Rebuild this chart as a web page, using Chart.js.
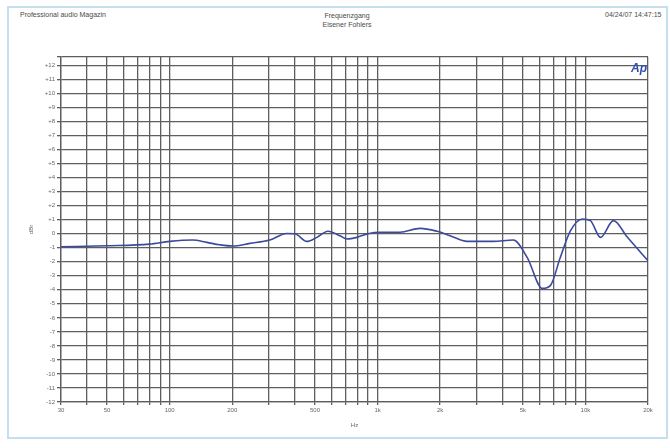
<!DOCTYPE html>
<html>
<head>
<meta charset="utf-8">
<script src="https://cdn.jsdelivr.net/npm/chart.js@4"></script>
<style>
  html, body { margin: 0; padding: 0; background: #fff; }
  #wrap { position: relative; width: 670px; height: 448px; overflow: hidden; font-family: "Liberation Sans", Arial, sans-serif; }
  #frame { position: absolute; left: 7px; top: 6px; width: 661px; height: 433px; border: 2px solid #c4e0ee; box-sizing: border-box; }
  .hdr { position: absolute; font-size: 7px; color: #4a4a4a; white-space: nowrap; }
  #logo { position: absolute; left: 631px; top: 61px; font: italic bold 12px "Liberation Sans", Arial, sans-serif; color: #2f4fb0; }
  canvas { position: absolute; left: 0; top: 0; }
</style>
</head>
<body>
<div id="wrap">
  <div id="frame"></div>
  <div class="hdr" style="left:20px; top:11px;">Professional audio Magazin</div>
  <div class="hdr" style="left:297px; top:11px; width:100px; text-align:center; line-height:9px;">Frequenzgang<br>Eisener Fohlers</div>
  <div class="hdr" style="left:605px; top:11px;">04/24/07 14:47:15</div>
  <canvas id="fr" width="670" height="448"></canvas>
  <div id="logo">Ap</div>
</div>
<script>
// measured response, relative to 1 kHz
const freqHz = [30, 50, 80, 100, 129, 151, 174, 201, 243, 303,
  366, 400, 457, 511, 577, 659, 712, 796, 899, 1028,
  1283, 1602, 1935, 2235, 2698, 3600, 4495, 5250, 6205, 6780,
  7570, 8465, 9675, 10570, 11810, 13640, 15930, 20000];
const levelDb = [-0.93, -0.86, -0.74, -0.55, -0.45, -0.62, -0.79, -0.88, -0.69, -0.45,
  0.02, 0.0, -0.55, -0.26, 0.17, -0.14, -0.38, -0.26, 0.0, 0.1,
  0.1, 0.38, 0.17, -0.14, -0.55, -0.55, -0.45, -1.7, -3.9, -3.7,
  -1.7, 0.2, 1.05, 0.93, -0.26, 0.93, -0.26, -1.93];

// axis ticks
const xLabelValues = [30, 50, 100, 200, 500, 1000, 2000, 5000, 10000, 20000];
const xLabelTexts = ['30', '50', '100', '200', '500', '1k', '2k', '5k', '10k', '20k'];
const xGridValues = [30, 40, 50, 60, 70, 80, 90,
  100, 200, 300, 400, 500, 600, 700, 800, 900,
  1000, 2000, 3000, 4000, 5000, 6000, 7000, 8000, 9000,
  10000, 20000];
const yMin = -12, yMax = 12.6;

document.addEventListener('DOMContentLoaded', () => {
  const ctx = document.getElementById('fr').getContext('2d');
  const gridColor = '#5e5e5e';
  const tickFont = { family: '"Liberation Sans", Arial, sans-serif', size: 6 };

  new Chart(ctx, {
    type: 'line',
    data: {
      datasets: [{
        data: freqHz.map((f, i) => ({ x: f, y: levelDb[i] })),
        borderColor: '#3b4a9c',
        borderWidth: 1.6,
        pointRadius: 0,
        fill: false,
        cubicInterpolationMode: 'monotone'
      }]
    },
    options: {
      responsive: false,
      animation: false,
      layout: { padding: { left: 26, top: 57, right: 22, bottom: 19 } },
      plugins: { legend: { display: false }, tooltip: { enabled: false } },
      scales: {
        x: {
          type: 'logarithmic',
          min: 30,
          max: 20000,
          afterBuildTicks: axis => { axis.ticks = xGridValues.map(v => ({ value: v })); },
          afterFit: axis => { axis.height = 27; },
          grid: { color: gridColor, lineWidth: 1.3, tickLength: 3 },
          border: { color: gridColor, width: 1.3 },
          ticks: {
            autoSkip: false,
            maxRotation: 0,
            color: '#666',
            font: tickFont,
            padding: 2,
            callback: v => {
              const i = xLabelValues.indexOf(v);
              return i >= 0 ? xLabelTexts[i] : '';
            }
          },
          title: { display: true, text: 'Hz', color: '#666', font: tickFont, padding: { top: 4, bottom: 0 } }
        },
        y: {
          min: yMin,
          max: yMax,
          afterBuildTicks: axis => {
            const t = [];
            for (let v = -12; v <= 12; v++) t.push({ value: v });
            t.push({ value: yMax });
            axis.ticks = t;
          },
          afterFit: axis => { axis.width = 35; },
          grid: { color: gridColor, lineWidth: 1.3, tickLength: 4 },
          border: { color: gridColor, width: 1.3 },
          ticks: {
            autoSkip: false,
            color: '#666',
            font: tickFont,
            padding: 2,
            callback: v => (v === yMax ? '' : (v > 0 ? '+' + v : String(v)))
          },
          title: { display: true, text: 'dBr', color: '#666', font: tickFont, padding: 2 }
        }
      }
    }
  });
});
</script>
</body>
</html>
